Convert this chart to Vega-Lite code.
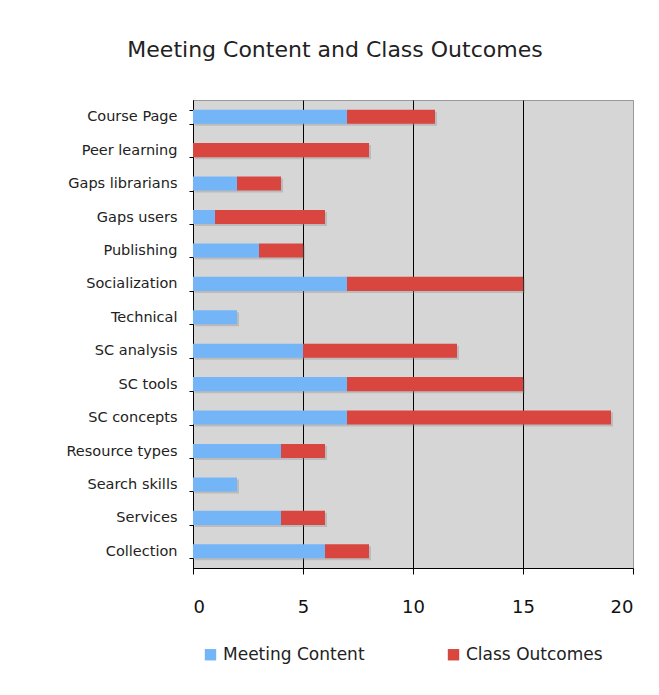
{
  "$schema": "https://vega.github.io/schema/vega-lite/v6.json",
  "autosize": "none",
  "width": 440,
  "height": 468,
  "padding": {"left": 193, "top": 100, "right": 26, "bottom": 127},
  "background": "white",
  "title": {
    "text": "Meeting Content and Class Outcomes",
    "font": "DejaVu Sans",
    "fontSize": 22,
    "fontWeight": "normal",
    "color": "#222222",
    "anchor": "middle",
    "frame": "group",
    "dx": -78,
    "offset": 30
  },
  "config": {
    "view": {"fill": "#D6D6D6", "stroke": "#9a9a9a"},
    "font": "DejaVu Sans"
  },
  "data": {
    "values": [
      {"topic": "Course Page", "series": "Meeting Content", "count": 7},
      {"topic": "Course Page", "series": "Class Outcomes", "count": 4},
      {"topic": "Peer learning", "series": "Class Outcomes", "count": 8},
      {"topic": "Gaps librarians", "series": "Meeting Content", "count": 2},
      {"topic": "Gaps librarians", "series": "Class Outcomes", "count": 2},
      {"topic": "Gaps users", "series": "Meeting Content", "count": 1},
      {"topic": "Gaps users", "series": "Class Outcomes", "count": 5},
      {"topic": "Publishing", "series": "Meeting Content", "count": 3},
      {"topic": "Publishing", "series": "Class Outcomes", "count": 2},
      {"topic": "Socialization", "series": "Meeting Content", "count": 7},
      {"topic": "Socialization", "series": "Class Outcomes", "count": 8},
      {"topic": "Technical", "series": "Meeting Content", "count": 2},
      {"topic": "SC analysis", "series": "Meeting Content", "count": 5},
      {"topic": "SC analysis", "series": "Class Outcomes", "count": 7},
      {"topic": "SC tools", "series": "Meeting Content", "count": 7},
      {"topic": "SC tools", "series": "Class Outcomes", "count": 8},
      {"topic": "SC concepts", "series": "Meeting Content", "count": 7},
      {"topic": "SC concepts", "series": "Class Outcomes", "count": 12},
      {"topic": "Resource types", "series": "Meeting Content", "count": 4},
      {"topic": "Resource types", "series": "Class Outcomes", "count": 2},
      {"topic": "Search skills", "series": "Meeting Content", "count": 2},
      {"topic": "Services", "series": "Meeting Content", "count": 4},
      {"topic": "Services", "series": "Class Outcomes", "count": 2},
      {"topic": "Collection", "series": "Meeting Content", "count": 6},
      {"topic": "Collection", "series": "Class Outcomes", "count": 2}
    ]
  },
  "encoding": {
    "y": {
      "field": "topic",
      "type": "nominal",
      "scale": {
        "domain": ["Course Page", "Peer learning", "Gaps librarians", "Gaps users", "Publishing", "Socialization", "Technical", "SC analysis", "SC tools", "SC concepts", "Resource types", "Search skills", "Services", "Collection"],
        "paddingInner": 0.58,
        "paddingOuter": 0.29
      },
      "axis": {
        "title": null,
        "domainColor": "black",
        "tickColor": "black",
        "tickSize": 4,
        "tickBand": "extent",
        "labelFontSize": 14.5,
        "labelColor": "#222222",
        "labelPadding": 12
      }
    },
    "x": {
      "field": "count",
      "type": "quantitative",
      "stack": "zero",
      "scale": {"domain": [0, 20], "nice": false},
      "axis": {
        "title": null,
        "values": [0, 5, 10, 15, 20],
        "grid": true,
        "gridColor": {"condition": {"test": "datum.value == 20", "value": "#9a9a9a"}, "value": "black"},
        "gridOpacity": 1,
        "domainColor": "black",
        "tickColor": "black",
        "tickSize": 6,
        "labelFontSize": 18,
        "labelColor": "#111111",
        "labelPadding": 24
      }
    },
    "order": {"field": "series", "sort": "descending"}
  },
  "layer": [
    {
      "mark": {"type": "bar", "color": "#8a8a8a", "opacity": 0.35, "xOffset": 2, "yOffset": 2}
    },
    {
      "mark": {"type": "bar"},
      "encoding": {
        "color": {
          "field": "series",
          "type": "nominal",
          "scale": {"domain": ["Meeting Content", "Class Outcomes"], "range": ["#74B5F7", "#D9463F"]},
          "legend": {
            "title": null,
            "orient": "none",
            "legendX": 9,
            "legendY": 546,
            "direction": "horizontal",
            "columns": 2,
            "symbolType": "square",
            "symbolSize": 130,
            "symbolStrokeWidth": 0,
            "labelFontSize": 17,
            "labelColor": "#222222",
            "labelOffset": 4,
            "labelLimit": 300,
            "columnPadding": 80
          }
        }
      }
    }
  ]
}
